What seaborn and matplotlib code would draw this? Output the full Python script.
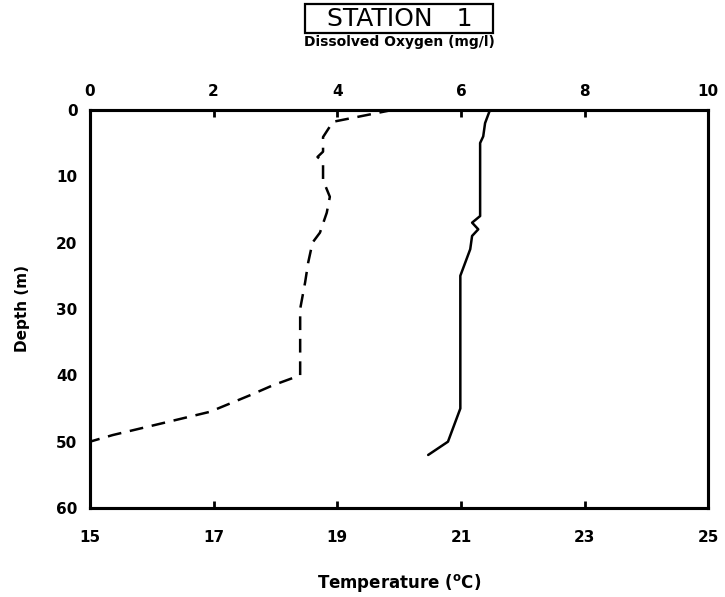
import matplotlib
matplotlib.use("Agg")
import matplotlib.pyplot as plt
from matplotlib.patches import Rectangle
import seaborn as sns
import pandas as pd

# Dissolved oxygen profile (mg/l) vs depth (m)
oxy_depth = [0, 1.8, 4.1, 6.3, 7.1, 7.8, 10.6, 13.1, 15.5, 18.5, 20, 23, 26, 30, 40, 41.5, 43, 45.5, 47.2, 49, 50]
oxy_value = [4.9, 3.93, 3.77, 3.77, 3.68, 3.77, 3.77, 3.88, 3.83, 3.72, 3.6, 3.53, 3.48, 3.40, 3.40, 2.96, 2.59, 1.94, 1.18, 0.37, 0.0]

# Temperature profile (°C) vs depth (m)
temp_depth = [0, 2, 4, 5, 16, 17, 18, 19, 21, 25, 45, 50, 52]
temp_value = [21.47, 21.39, 21.36, 21.31, 21.31, 21.18, 21.28, 21.18, 21.15, 20.99, 20.99, 20.79, 20.47]

temp_ticks = [15, 17, 19, 21, 23, 25]
oxy_ticks = [0, 2, 4, 6, 8, 10]
depth_ticks = [0, 10, 20, 30, 40, 50, 60]

sns.set_style("white")
plt.rcParams['font.family'] = ['DejaVu Sans']
plt.rcParams['text.color'] = 'black'
plt.rcParams['axes.labelcolor'] = 'black'
plt.rcParams['xtick.color'] = 'black'
plt.rcParams['ytick.color'] = 'black'

fig = plt.figure(figsize=(7.25, 5.97), dpi=100)
ax = fig.add_axes([0.124, 0.149, 0.853, 0.667])
ax_top = ax.twiny()

df_t = pd.DataFrame({"temp": temp_value, "depth": temp_depth})
df_o = pd.DataFrame({"oxy": oxy_value, "depth": oxy_depth})

sns.lineplot(data=df_t, x="temp", y="depth", sort=False, estimator=None,
             color="black", linewidth=1.8, ax=ax)
sns.lineplot(data=df_o, x="oxy", y="depth", sort=False, estimator=None,
             color="black", linewidth=1.8, ax=ax_top)
ax_top.lines[0].set_linestyle((0, (5.5, 3.5)))

ax.set_xlim(15, 25)
ax_top.set_xlim(0, 10)
ax.set_ylim(60, 0)
ax_top.set_ylim(60, 0)

ax.set_xticks(temp_ticks)
ax.set_xticklabels([str(t) for t in temp_ticks])
ax_top.set_xticks(oxy_ticks)
ax_top.set_xticklabels([str(t) for t in oxy_ticks])
ax.set_yticks(depth_ticks)
ax.set_yticklabels([str(t) for t in depth_ticks])

for a in (ax, ax_top):
    for s in a.spines.values():
        s.set_linewidth(2.2)
        s.set_color("black")
        s.set_visible(True)
    a.tick_params(direction="in", length=5, width=2, colors="black",
                  labelsize=11)
    for lbl in a.get_xticklabels() + a.get_yticklabels():
        lbl.set_fontweight("bold")

ax.tick_params(axis="x", pad=16)
ax.tick_params(axis="y", pad=9)
ax_top.tick_params(axis="x", pad=8)

ax.set_xlabel("Temperature ($\\mathbf{^{o}}$C)", fontsize=12, fontweight="bold",
              labelpad=19, color="black")
ax.set_ylabel("Depth (m)", fontsize=11, fontweight="bold", labelpad=19, color="black")
ax_top.set_xlabel("Dissolved Oxygen (mg/l)", fontsize=10, fontweight="bold",
                  labelpad=27, color="black")

fig.text(0.552, 0.969, "STATION   1", ha="center", va="center", fontsize=18,
         color="black")
fig.patches.append(Rectangle((0.421, 0.945), 0.259, 0.0486, transform=fig.transFigure,
                             fill=False, edgecolor="black", linewidth=1.6))

fig.savefig("out.png", dpi=100)
